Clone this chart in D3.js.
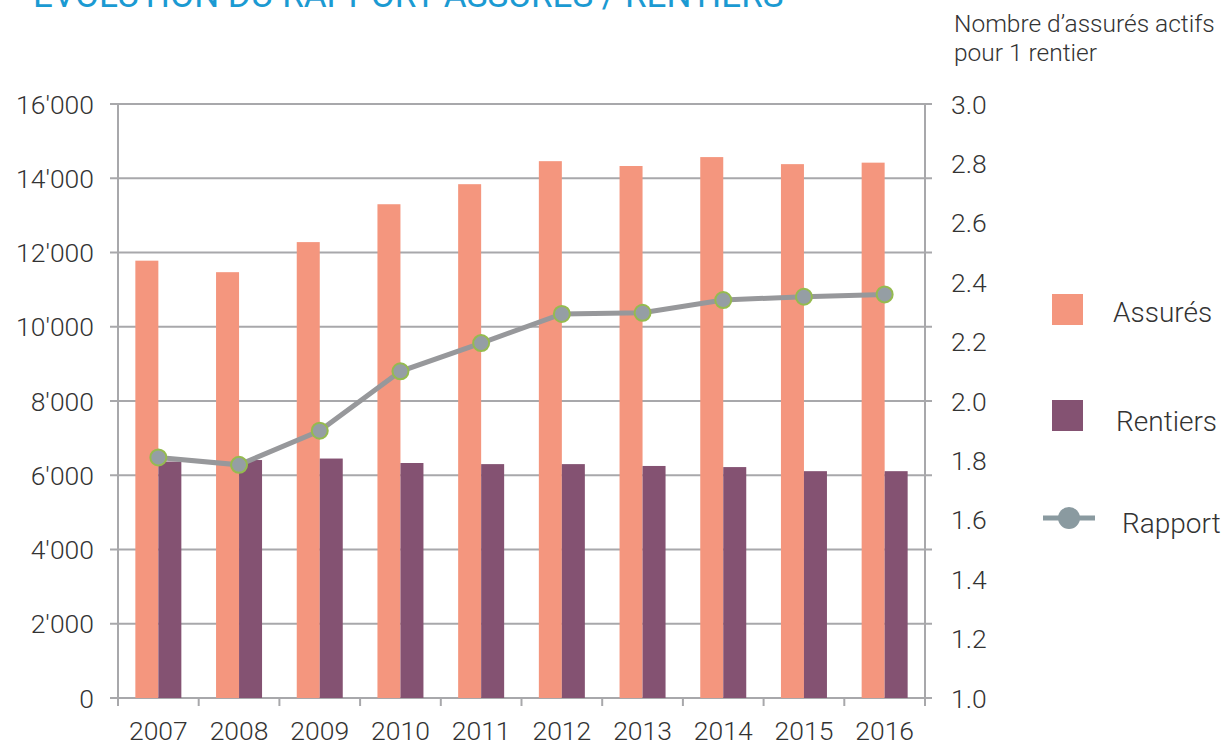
<!DOCTYPE html>
<html lang="fr">
  <head>
    <meta charset="utf-8"/>
    <script src="https://d3js.org/d3.v7.min.js"></script>
    <style>
      body { margin: 0; background: #fff; }
      svg text { font-family: Roboto, "Liberation Sans", sans-serif; font-weight: 300; fill: #333; }
    </style>
  </head>
  <body>
    <svg id="chart" width="1222" height="744"></svg>
  </body>
  <script>
    const years = ["2007", "2008", "2009", "2010", "2011", "2012", "2013", "2014", "2015", "2016"];
    const assures = [11780, 11470, 12280, 13300, 13840, 14460, 14330, 14570, 14380, 14420];
    const rentiers = [6370, 6410, 6450, 6330, 6300, 6300, 6250, 6220, 6110, 6110];
    const rapport = [1.81, 1.785, 1.90, 2.10, 2.195, 2.293, 2.297, 2.34, 2.351, 2.359];
    const leftTicks = [0, 2000, 4000, 6000, 8000, 10000, 12000, 14000, 16000];
    const rightTicks = [1.0, 1.2, 1.4, 1.6, 1.8, 2.0, 2.2, 2.4, 2.6, 2.8, 3.0];

    const svg = d3.select("#chart");
    const mLeft = 118, mRight = 925, mTop = 104, mBottom = 698;
    const gridColor = "#a8a8ab";
    const tickFont = "26.5px";

    const x = d3.scaleBand().domain(years).range([mLeft, mRight]);
    const yL = d3.scaleLinear().domain([0, 16000]).range([mBottom, mTop]);
    const yR = d3.scaleLinear().domain([1, 3]).range([mBottom, mTop]);
    const barW = 23;

    // title, cut off at the top like the source
    svg.append("text")
      .attr("x", 33).attr("y", 7)
      .style("font-size", "35px").style("font-weight", 400)
      .style("fill", "#1b9ad2")
      .text("ÉVOLUTION DU RAPPORT ASSURÉS / RENTIERS");

    // grid lines
    svg.append("g").selectAll("line")
      .data(leftTicks)
      .join("line")
      .attr("x1", mLeft - 8).attr("x2", mRight + 7)
      .attr("y1", d => yL(d)).attr("y2", d => yL(d))
      .attr("stroke", gridColor).attr("stroke-width", 2);

    // bars
    svg.append("g").selectAll("rect")
      .data(assures)
      .join("rect")
      .attr("x", (d, i) => x(years[i]) + x.bandwidth() / 2 - barW)
      .attr("y", d => yL(d))
      .attr("width", barW)
      .attr("height", d => mBottom - yL(d))
      .attr("fill", "#f4967e");

    svg.append("g").selectAll("rect")
      .data(rentiers)
      .join("rect")
      .attr("x", (d, i) => x(years[i]) + x.bandwidth() / 2)
      .attr("y", d => yL(d))
      .attr("width", barW)
      .attr("height", d => mBottom - yL(d))
      .attr("fill", "#845272");

    // axes
    svg.append("line")
      .attr("x1", mLeft).attr("x2", mLeft).attr("y1", mTop).attr("y2", mBottom)
      .attr("stroke", gridColor).attr("stroke-width", 2);
    svg.append("line")
      .attr("x1", mRight).attr("x2", mRight).attr("y1", mTop).attr("y2", mBottom)
      .attr("stroke", gridColor).attr("stroke-width", 2);

    // x ticks
    const xEdges = years.map(y => x(y)).concat([mRight]);
    svg.append("g").selectAll("line")
      .data(xEdges)
      .join("line")
      .attr("x1", d => d).attr("x2", d => d)
      .attr("y1", mBottom).attr("y2", mBottom + 8)
      .attr("stroke", gridColor).attr("stroke-width", 2);

    svg.append("g").selectAll("text")
      .data(years)
      .join("text")
      .attr("x", d => x(d) + x.bandwidth() / 2)
      .attr("y", 740)
      .attr("text-anchor", "middle")
      .style("font-size", tickFont)
      .text(d => d);

    // left labels
    svg.append("g").selectAll("text")
      .data(leftTicks)
      .join("text")
      .attr("x", 94)
      .attr("y", d => yL(d) + 9.5)
      .attr("text-anchor", "end")
      .style("font-size", tickFont)
      .text(d => d3.format(",")(d).replace(/,/g, "'"));

    // right labels
    svg.append("g").selectAll("text")
      .data(rightTicks)
      .join("text")
      .attr("x", 951)
      .attr("y", d => yR(d) + 9.5)
      .style("font-size", tickFont)
      .text(d => d.toFixed(1));

    svg.append("text").attr("x", 954).attr("y", 32)
      .style("font-size", "24.5px").text("Nombre d’assurés actifs");
    svg.append("text").attr("x", 954).attr("y", 61)
      .style("font-size", "24.5px").text("pour 1 rentier");

    // ratio line
    const line = d3.line()
      .x((d, i) => x(years[i]) + x.bandwidth() / 2)
      .y(d => yR(d));
    svg.append("path")
      .datum(rapport)
      .attr("d", line)
      .attr("fill", "none")
      .attr("stroke", "#97989b")
      .attr("stroke-width", 5);
    svg.append("g").selectAll("circle")
      .data(rapport)
      .join("circle")
      .attr("cx", (d, i) => x(years[i]) + x.bandwidth() / 2)
      .attr("cy", d => yR(d))
      .attr("r", 8)
      .attr("fill", "#959ea4")
      .attr("stroke", "#95bb4f")
      .attr("stroke-width", 2);

    // legend
    const lg = svg.append("g");
    lg.append("rect").attr("x", 1052).attr("y", 294).attr("width", 31).attr("height", 31).attr("fill", "#f4967e");
    lg.append("text").attr("x", 1113).attr("y", 322).style("font-size", "28px").text("Assurés");
    lg.append("rect").attr("x", 1052).attr("y", 400).attr("width", 31).attr("height", 31).attr("fill", "#845272");
    lg.append("text").attr("x", 1116).attr("y", 431).style("font-size", "28px").text("Rentiers");
    lg.append("line").attr("x1", 1043).attr("x2", 1095).attr("y1", 518).attr("y2", 518)
      .attr("stroke", "#8a9aa0").attr("stroke-width", 5);
    lg.append("circle").attr("cx", 1069).attr("cy", 518).attr("r", 11).attr("fill", "#8a9aa0");
    lg.append("text").attr("x", 1122).attr("y", 533).style("font-size", "28px").text("Rapport");
  </script>
</html>
